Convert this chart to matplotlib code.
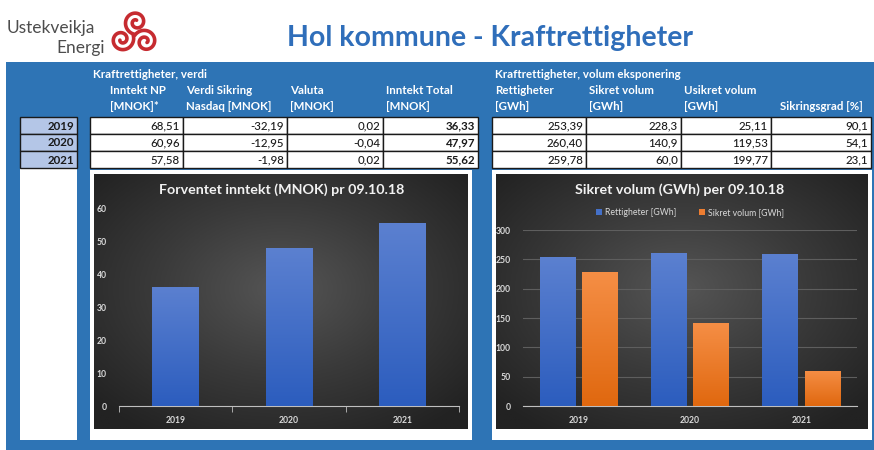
import matplotlib.pyplot as plt
import numpy as np
from matplotlib.patches import Rectangle
from matplotlib.colors import LinearSegmentedColormap

plt.rcParams['font.family'] = ['Lato', 'DejaVu Sans']

# data
years = ['2019', '2020', '2021']
inntekt_np = [68.51, 60.96, 57.58]
verdi_sikring = [-32.19, -12.95, -1.98]
valuta = [0.02, -0.04, 0.02]
inntekt_total = [36.33, 47.97, 55.62]
rettigheter = [253.39, 260.40, 259.78]
sikret_volum = [228.3, 140.9, 60.0]
usikret_volum = [25.11, 119.53, 199.77]
sikringsgrad = [90.1, 54.1, 23.1]

W, H = 874, 450
BLUE = '#2E74B5'
fig = plt.figure(figsize=(W / 100, H / 100), dpi=100)
bg = fig.add_axes([0, 0, 1, 1])
bg.set_xlim(0, W)
bg.set_ylim(H, 0)
bg.axis('off')


def fmt(v, d=2):
    return f"{v:.{d}f}".replace('.', ',')


def px_axes(x0, y0, x1, y1):
    return fig.add_axes([x0 / W, 1 - y1 / H, (x1 - x0) / W, (y1 - y0) / H])


# header: logo and title
bg.text(7, 28, 'Ustekveikja', fontsize=12.5, color='#4d4d4d', va='center', ha='left')
bg.text(105, 48, 'Energi', fontsize=12.5, color='#4d4d4d', va='center', ha='right')
for ang in [200, 330, 80]:
    a = np.deg2rad(ang)
    cx, cy = 134 + 13 * np.cos(a), 35 - 13 * np.sin(a)
    t = np.linspace(0, 3.0 * np.pi, 120)
    r = 2 + 3.4 * t / np.pi
    bg.plot(cx + r * np.cos(t + a), cy - r * np.sin(t + a), color='#C62B30', lw=2.6,
            solid_capstyle='round')
bg.text(490, 38, 'Hol kommune - Kraftrettigheter', fontsize=20.5, fontweight='bold',
        color='#2F6EBA', ha='center', va='center')

# blue panel
bg.add_patch(Rectangle((6, 62), W - 6, H - 62, color=BLUE, lw=0))

# header texts of the two tables
hdr = dict(color='white', fontsize=8.3, fontweight='bold', va='center', ha='left')
bg.text(93, 75, 'Kraftrettigheter, verdi', **hdr)
bg.text(495, 75, 'Kraftrettigheter, volum eksponering', **hdr)
left_cols = [(110, 'Inntekt NP', '[MNOK]*'), (186, 'Verdi Sikring', 'Nasdaq [MNOK]'),
             (290, 'Valuta', '[MNOK]'), (386, 'Inntekt Total', '[MNOK]')]
right_cols = [(495, 'Rettigheter', '[GWh]'), (589, 'Sikret volum', '[GWh]'),
              (684, 'Usikret volum', '[GWh]'), (780, '', 'Sikringsgrad [%]')]
for x, l1, l2 in left_cols + right_cols:
    bg.text(x, 91, l1, **hdr)
    bg.text(x, 107, l2, **hdr)

# tables
row_y = [117, 134, 151]
rh = 17
left_edges = [90, 183, 287, 383, 478]
right_edges = [492, 586, 681, 771, 871]
left_vals = [[fmt(v) for v in inntekt_np], [fmt(v) for v in verdi_sikring],
             [fmt(v) for v in valuta], [fmt(v) for v in inntekt_total]]
right_vals = [[fmt(v) for v in rettigheter], [fmt(v, 1) for v in sikret_volum],
              [fmt(v) for v in usikret_volum], [fmt(v, 1) for v in sikringsgrad]]

bg.add_patch(Rectangle((20, 168), 57, 272, color='white', lw=0))
for i, yr in enumerate(years):
    y = row_y[i]
    bg.add_patch(Rectangle((20, y), 57, rh, facecolor='#B4C6E7', edgecolor='#1a1a1a', lw=1))
    bg.text(74, y + rh / 2 + 0.5, yr, fontsize=8.3, fontweight='bold', color='#1a1a1a',
            ha='right', va='center')
    for edges, vals, boldcol in [(left_edges, left_vals, 3), (right_edges, right_vals, -1)]:
        for c in range(4):
            bg.add_patch(Rectangle((edges[c], y), edges[c + 1] - edges[c], rh,
                                   facecolor='white', edgecolor='#1a1a1a', lw=1))
            bg.text(edges[c + 1] - 3, y + rh / 2 + 0.5, vals[c][i], fontsize=8.3,
                    fontweight='bold' if c == boldcol else 'medium', color='#1a1a1a',
                    ha='right', va='center')

# chart frames with radial dark background
yy, xx = np.mgrid[-1:1:200j, -1:1:300j]
rad = np.sqrt(xx ** 2 + (yy + 0.1) ** 2)
bgcmap = LinearSegmentedColormap.from_list('bgc', ['#555555', '#3a3a3a', '#222222'])
for fx0, fx1 in [(90, 472), (492, 872)]:
    bg.add_patch(Rectangle((fx0, 170), fx1 - fx0, 270, color='white', lw=0))
    bg.imshow(rad, cmap=bgcmap, extent=(fx0 + 4, fx1 - 4, 429, 174), aspect='auto',
              vmin=0, vmax=1.35, zorder=2)

bar_blue = LinearSegmentedColormap.from_list('bb', ['#2C5DBE', '#5B80D0'])
bar_orange = LinearSegmentedColormap.from_list('bo', ['#E0680F', '#F58E45'])
grad = np.linspace(1, 0, 100).reshape(-1, 1)


def shade(ax, bars, cmap):
    for b in bars:
        x0, y0 = b.get_x(), b.get_y()
        im = ax.imshow(grad, cmap=cmap, extent=(x0, x0 + b.get_width(), y0, y0 + b.get_height()),
                       aspect='auto', zorder=3)
        im.set_clip_path(b)


def style(ax):
    ax.set_facecolor('none')
    for s in ['top', 'right', 'left']:
        ax.spines[s].set_visible(False)
    ax.spines['bottom'].set_color('#BFBFBF')
    ax.tick_params(axis='y', length=0, pad=9, labelsize=6.2, labelcolor='#D9D9D9')
    ax.tick_params(axis='x', which='major', length=0, pad=7, labelsize=6.2, labelcolor='#D9D9D9')
    for lab in ax.get_xticklabels() + ax.get_yticklabels():
        lab.set_fontweight('bold')


# left chart
x = np.arange(len(years))
ax1 = px_axes(119, 209, 459, 406)
b1 = ax1.bar(x, inntekt_total, width=0.41, color='#4470C8', zorder=2)
shade(ax1, b1, bar_blue)
ax1.set_xlim(-0.5, 2.5)
ax1.set_ylim(0, 60)
ax1.set_yticks(range(0, 61, 10))
ax1.set_xticks(x, years)
ax1.set_xticks([-0.5, 0.5, 1.5, 2.5], minor=True)
ax1.tick_params(axis='x', which='minor', length=4, color='#BFBFBF', direction='out')
style(ax1)
bg.text(282, 190, 'Forventet inntekt (MNOK) pr 09.10.18', fontsize=10.3, fontweight='bold',
        color='#F2F2F2', ha='center', va='center', zorder=5)

# right chart
ax2 = px_axes(523, 230, 857, 406)
b2 = ax2.bar(x - 0.19, rettigheter, width=0.32, color='#4470C8', zorder=2,
             label='Rettigheter [GWh]')
b3 = ax2.bar(x + 0.19, sikret_volum, width=0.32, color='#ED7D31', zorder=2,
             label='Sikret volum [GWh]')
shade(ax2, b2, bar_blue)
shade(ax2, b3, bar_orange)
ax2.set_xlim(-0.5, 2.5)
ax2.set_ylim(0, 300)
ax2.set_yticks(range(0, 301, 50))
ax2.set_xticks(x, years)
ax2.grid(axis='y', color='#5E5E5E', lw=0.8, zorder=0)
ax2.set_axisbelow(True)
style(ax2)
bg.text(680, 190, 'Sikret volum (GWh) per 09.10.18', fontsize=10.3, fontweight='bold',
        color='#F2F2F2', ha='center', va='center', zorder=5)
leg = ax2.legend(loc='center', bbox_to_anchor=(0.5, 1.1), ncol=2, frameon=False,
                 fontsize=6.3, handlelength=0.7, handleheight=0.7, columnspacing=2.5,
                 handletextpad=0.4, labelcolor='#D9D9D9')

fig.savefig('out.png', dpi=100)
